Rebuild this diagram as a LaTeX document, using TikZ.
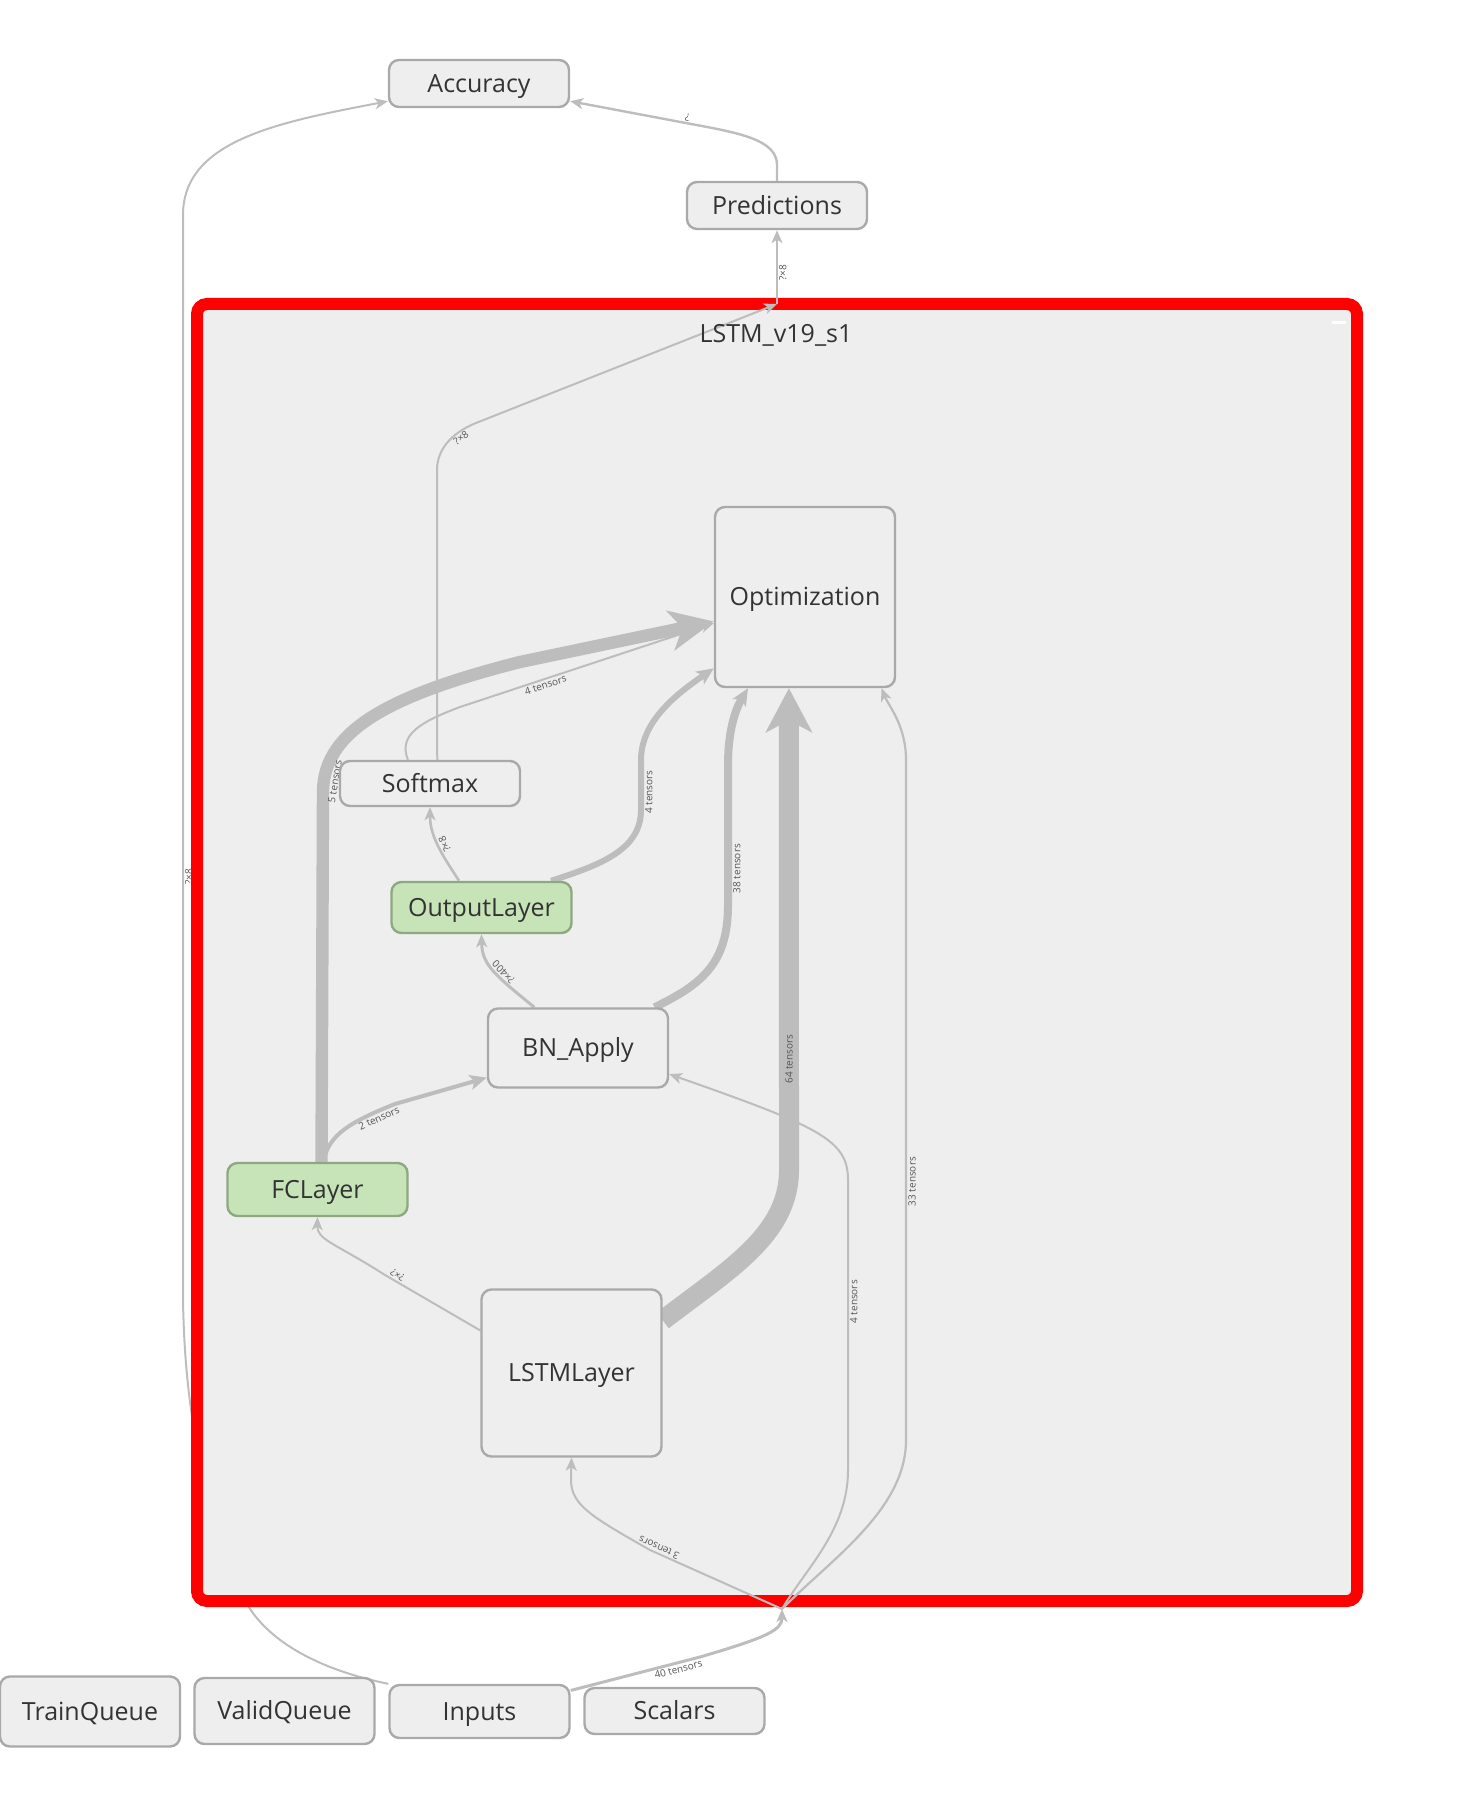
\documentclass[tikz,border=0pt]{standalone}
\usepackage{fontspec}
\setmainfont{Open Sans}
\usepackage{tikz}
\usetikzlibrary{arrows.meta}
\usepackage{xcolor}

\definecolor{nodefill}{HTML}{EEEEEE}
\definecolor{nodeborder}{HTML}{A9A9A9}
\definecolor{greenfill}{HTML}{C7E3B8}
\definecolor{greenborder}{HTML}{8EA882}
\definecolor{edgegray}{HTML}{BDBDBD}
\definecolor{textgray}{HTML}{333333}
\definecolor{lblgray}{HTML}{555555}
\definecolor{scopered}{HTML}{FF0000}

\newcommand{\opfont}{\fontsize{12.5}{14}\selectfont}
\newcommand{\lblfont}{\fontsize{5}{6}\selectfont}

\pgfdeclarelayer{bg}
\pgfdeclarelayer{edges}
\pgfsetlayers{bg,edges,main}

\begin{document}
\begin{tikzpicture}[x=0.5pt, y=-0.5pt,
    op/.style={draw=nodeborder, fill=nodefill, line width=1.2pt, rounded corners=5pt,
        minimum width=90pt, inner sep=0pt, text=textgray, font=\opfont,
        text height=8.9pt, text depth=0pt},
    fcop/.style={op, draw=greenborder, fill=greenfill},
    scopebox/.style={draw=scopered, fill=nodefill, line width=6pt, rounded corners=5pt,
        minimum width=580pt, minimum height=648.5pt, inner sep=0pt},
    edge/.style={draw=edgegray, line width=1pt, -{Stealth[length=6.5pt, width=5.5pt, inset=1.8pt]}},
    midedge/.style={edge, -{Stealth[length=8.5pt, width=7.5pt, inset=2pt]}},
    fatedge/.style={edge, -{Stealth[length=22pt, width=20pt, inset=6pt]}},
    lbl/.style={font=\lblfont, text=lblgray, inner sep=0.6pt, allow upside down}]
    \useasboundingbox (0,0) rectangle (1477,1807);

    % nodes outside the scope
    \node[op, minimum height=23.5pt] (acc) at (479,83.5) {Accuracy};
    \node[op, minimum height=23.5pt] (pred) at (777,205.5) {Predictions};
    \node[op, minimum height=35pt] (trainq) at (90,1711.5) {TrainQueue};
    \node[op, minimum height=33pt] (validq) at (284.5,1711) {ValidQueue};
    \node[op, minimum height=26.5pt] (inputs) at (479.5,1711.5) {Inputs};
    \node[op, minimum height=23pt] (scalars) at (674.5,1711) {Scalars};

    \begin{pgfonlayer}{bg}
        % Inputs feeding Accuracy, runs under the scope box
        \draw[edge] (inputs.north west) .. controls (330,1672) and (262,1645) .. (240,1590)
            .. controls (205,1500) and (185,1420) .. (183,1300)
            -- node[lbl, pos=0.39, sloped, below] {?×8} (183,215)
            .. controls (183,140) and (280,122) .. (acc.191);
        % the scope LSTM_v19_s1
        \node[scopebox] (lstmv) at (777,952.5) {};
        \fill[white] (1332,321) rectangle (1346,324);
    \end{pgfonlayer}
    \node[text=textgray, font=\opfont, text height=8.9pt, text depth=0pt] (lstmvlabel) at (776,334) {LSTM\_v19\_s1};

    \coordinate (hubout) at (777,304);
    \coordinate (hubin) at (782,1609);

    % nodes inside the scope
    \node[op, minimum height=90pt] (opt) at (805,597) {Optimization};
    \node[op, minimum height=22.5pt] (softmax) at (430,783.5) {Softmax};
    \node[fcop, minimum height=25.5pt] (outlayer) at (481.5,907.5) {OutputLayer};
    \node[op, minimum height=39.5pt] (bnapply) at (578,1048) {BN\_Apply};
    \node[fcop, minimum height=26.5pt] (fclayer) at (317.5,1189.5) {FCLayer};
    \node[op, minimum height=83.5pt] (lstmlayer) at (571.5,1373) {LSTMLayer};

    \begin{pgfonlayer}{edges}
        % thin edges first
        \draw[edge, line width=1.2pt] (pred.north) -- (777,165)
            .. controls (777,140) and (740,133) .. (691,124)
            -- node[lbl, pos=0.04, sloped, below] {?} (acc.-11);
        \draw[edge] (hubout) -- node[lbl, pos=0.42, sloped, below] {?×8} (pred.south);
        \draw[edge] (softmax.73) -- (437,470) .. controls (437,450) and (451,433) ..
            node[lbl, pos=0.72, sloped, below] {?×8} (476,423) -- (hubout);
        \draw[edge] (softmax.133) .. controls (398,735) and (420,722) .. (460,707)
            -- node[lbl, pos=0.33, sloped, below] {4 tensors} (opt.196);
        \draw[edge] (lstmlayer.155) -- node[lbl, pos=0.9, sloped, below] {?×?} (385,1275)
            .. controls (335,1243) and (317,1240) .. (fclayer.south);
        \draw[edge, line width=1.5pt] (bnapply.137) .. controls (495,975) and (482,965) ..
            node[lbl, pos=0.4, sloped, below] {?×400} (outlayer.south);
        \draw[edge, line width=1.3pt] (outlayer.130) .. controls (440,852) and (430,835) ..
            node[lbl, pos=0.45, sloped, below] {?×8} (softmax.south);
        \draw[edge] (hubin) -- node[lbl, pos=0.95, sloped, below] {3 tensors} (650,1550)
            .. controls (592,1517) and (571,1505) .. (571,1480) -- (lstmlayer.south);
        \draw[edge] (hubin) .. controls (806,1568) and (848,1530) .. (848,1470)
            -- node[lbl, pos=0.58, sloped, below] {4 tensors} (848,1180)
            .. controls (848,1140) and (820,1127) .. (bnapply.-16);
        \draw[edge, line width=1.1pt] (hubin) .. controls (830,1560) and (906,1510) .. (906,1440)
            -- node[lbl, pos=0.38, sloped, below] {33 tensors} (906,760)
            .. controls (906,725) and (888,705) .. (opt.-50);
        \draw[edge, line width=1.5pt] (inputs.13) -- node[lbl, pos=0.82, sloped, below] {40 tensors} (700,1657)
            .. controls (768,1637) and (782,1630) .. (hubin);
        % wider edges
        \draw[midedge, line width=2pt] ([xshift=3pt]fclayer.north) .. controls (328,1135) and (350,1122) ..
            node[lbl, pos=0.85, sloped, below] {2 tensors} (395,1104) -- (bnapply.198);
        \draw[midedge, line width=3pt] (outlayer.21) .. controls (600,865) and (641,850) .. (641,810)
            -- node[lbl, pos=0.36, sloped, below] {4 tensors} (641,760)
            .. controls (641,722) and (675,695) .. (opt.218);
        \draw[midedge, line width=4pt] (bnapply.28) .. controls (700,985) and (728,965) .. (728,905)
            -- node[lbl, pos=0.26, sloped, below] {38 tensors} (728,765)
            .. controls (728,725) and (738,705) .. (opt.238);
        \draw[fatedge, line width=6.2pt] ([xshift=2pt]fclayer.north) -- (323,790)
            .. controls (325,730) and (390,695) .. node[lbl, pos=0.06, sloped, below] {5 tensors} (520,662) -- (opt.195);
        \draw[fatedge, line width=10pt, -{Stealth[length=22pt, width=23pt, inset=6pt]}] (lstmlayer.30)
            .. controls (728,1270) and (789,1235) .. (789,1170)
            -- node[lbl, pos=0.23, sloped] {64 tensors} (opt.260);
    \end{pgfonlayer}
\end{tikzpicture}
\end{document}
